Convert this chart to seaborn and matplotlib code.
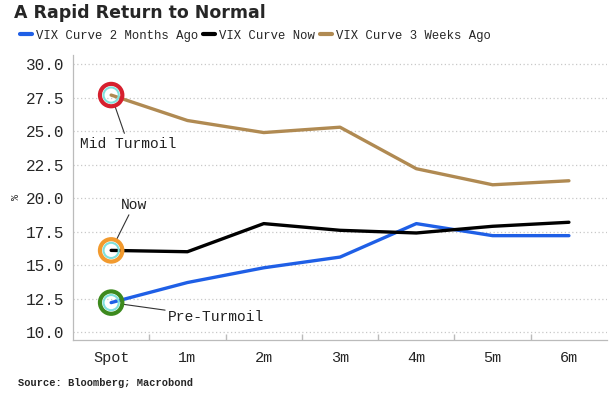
import matplotlib
matplotlib.use("Agg")
import matplotlib.pyplot as plt
import seaborn as sns
import pandas as pd
from matplotlib.lines import Line2D

tenors = ["Spot", "1m", "2m", "3m", "4m", "5m", "6m"]
vix_2m_ago = [12.2, 13.7, 14.8, 15.6, 18.1, 17.2, 17.2]
vix_now = [16.1, 16.0, 18.1, 17.6, 17.4, 17.9, 18.2]
vix_3w_ago = [27.7, 25.8, 24.9, 25.3, 22.2, 21.0, 21.3]
series_names = ["VIX Curve 2 Months Ago", "VIX Curve Now", "VIX Curve 3 Weeks Ago"]
y_ticks = [10.0, 12.5, 15.0, 17.5, 20.0, 22.5, 25.0, 27.5, 30.0]

df = pd.concat([
    pd.DataFrame({"tenor": tenors, "value": v, "series": n})
    for v, n in zip([vix_2m_ago, vix_now, vix_3w_ago], series_names)
])
df["pos"] = df["tenor"].map({t: i for i, t in enumerate(tenors)})

sns.set_theme(style="white")
mono = ["Liberation Mono", "DejaVu Sans Mono"]

fig = plt.figure(figsize=(6.16, 3.95), dpi=100)
ax = fig.add_axes([0.1185, 0.139, 0.867, 0.722])

palette = {series_names[0]: "#1f5fe6", series_names[1]: "#000000", series_names[2]: "#b08a52"}
sns.lineplot(data=df, x="pos", y="value", hue="series", palette=palette,
             linewidth=2.4, ax=ax, legend=False, sort=False)

ax.set_xlim(-0.5, 6.5)
ax.set_ylim(9.4, 30.7)
ax.set_yticks(y_ticks)
ax.set_yticklabels([f"{t:.1f}" for t in y_ticks], family=mono, fontsize=11.5)
ax.set_xticks(range(len(tenors)))
ax.set_xticklabels(tenors, family=mono, fontsize=11)
ax.set_xticks([i + 0.5 for i in range(len(tenors) - 1)], minor=True)
ax.tick_params(axis="x", which="major", length=0, pad=8)
ax.tick_params(axis="x", which="minor", length=4, color="#bbbbbb", direction="in", bottom=True)
ax.tick_params(axis="y", length=0, pad=6)
ax.grid(axis="y", linestyle=(0, (1, 2)), color="#c8c8c8", linewidth=0.9)
ax.grid(axis="x", visible=False)
for s in ["top", "right"]:
    ax.spines[s].set_visible(False)
for s in ["left", "bottom"]:
    ax.spines[s].set_color("#bbbbbb")
    ax.spines[s].set_linewidth(0.9)
ax.set_xlabel("")
ax.set_ylabel("%", fontsize=7, family=mono, rotation=90, labelpad=4)

# marker circles at spot
rings = [(vix_3w_ago[0], "#d6202e"), (vix_now[0], "#f29a2e"), (vix_2m_ago[0], "#3d8a1e")]
for yv, col in rings:
    ax.scatter([0], [yv], s=260, facecolor="none", edgecolor=col, linewidth=3, zorder=5)
    ax.scatter([0], [yv], s=120, facecolor="none", edgecolor="#7fe0dc", linewidth=1.5, zorder=6)

ann_kw = dict(fontsize=10.5, family=mono, color="#222222",
              arrowprops=dict(arrowstyle="-", color="#333333", lw=0.8, shrinkA=0, shrinkB=9))
ax.annotate("Mid Turmoil", xy=(0, vix_3w_ago[0]), xytext=(0.22, 24.6), ha="center", va="top", **ann_kw)
ax.annotate("Now", xy=(0, vix_now[0]), xytext=(0.3, 19.0), ha="center", va="bottom", **ann_kw)
ax.annotate("Pre-Turmoil", xy=(0, vix_2m_ago[0]), xytext=(0.75, 11.1), ha="left", va="center", **ann_kw)

fig.text(0.022, 0.967, "A Rapid Return to Normal", fontsize=12.5, fontweight="bold",
         family=["DejaVu Sans"], va="center", ha="left")

# legend
handles = [Line2D([], [], color=palette[n], lw=3) for n in series_names]
leg = fig.legend(handles, series_names, loc="center left", bbox_to_anchor=(0.015, 0.91),
                 ncol=3, frameon=False, handlelength=1.0, handletextpad=0.3, columnspacing=0.4,
                 prop={"family": mono, "size": 8.8})

fig.text(0.03, 0.03, "Source: Bloomberg; Macrobond", fontsize=7.5, fontweight="bold",
         family=mono, va="center", ha="left")

fig.savefig("out.png", dpi=100)
